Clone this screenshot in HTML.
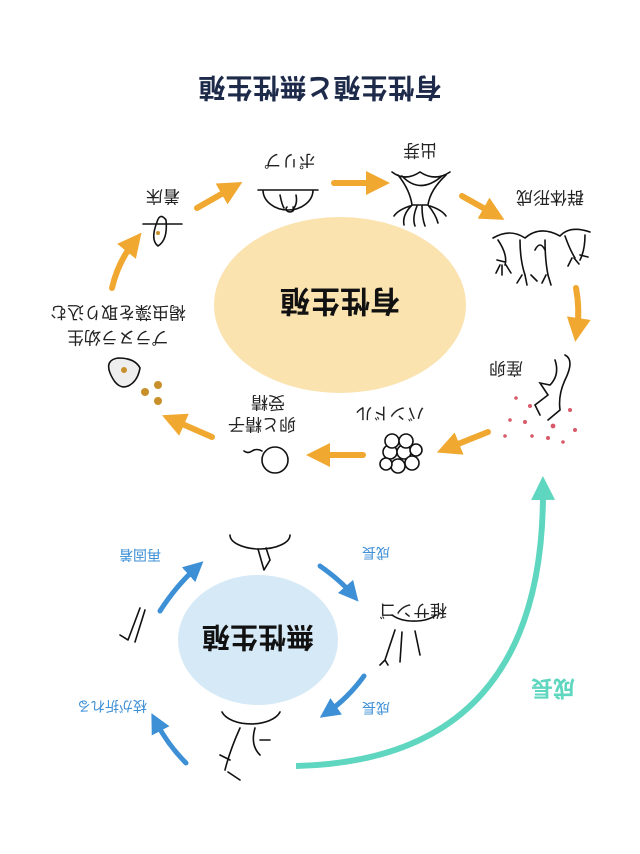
<!DOCTYPE html>
<html><head><meta charset="utf-8"><style>
html,body{margin:0;padding:0;background:#fff;}
svg{display:block;}
text{font-family:"Liberation Sans","Noto Sans CJK JP",sans-serif;}
</style></head><body>
<svg width="640" height="854" viewBox="0 0 640 854" xmlns="http://www.w3.org/2000/svg">
<defs>
<marker id="ao" markerWidth="4" markerHeight="4" refX="2" refY="2" orient="auto" markerUnits="strokeWidth"><path d="M0,0 L4,2 L0,4 z" fill="#f0a830"/></marker>
<marker id="ab" markerWidth="4" markerHeight="4" refX="2" refY="2" orient="auto" markerUnits="strokeWidth"><path d="M0,0 L4,2 L0,4 z" fill="#3d8fd6"/></marker>
<marker id="at" markerWidth="4" markerHeight="4" refX="2" refY="2" orient="auto" markerUnits="strokeWidth"><path d="M0,0 L4,2 L0,4 z" fill="#5fd6bf"/></marker>
</defs>
<!-- title -->
<text x="320" y="87" transform="rotate(180 320 87)" text-anchor="middle" dominant-baseline="central" font-size="27" font-weight="bold" fill="#1e2a4a">有性生殖と無性生殖</text>
<!-- ellipses -->
<ellipse cx="340" cy="305" rx="126" ry="88" fill="#fbe3b0"/>
<text x="340" y="300" transform="rotate(180 340 300)" text-anchor="middle" dominant-baseline="central" font-size="30" font-weight="bold" fill="#111">有性生殖</text>
<ellipse cx="258" cy="640" rx="80" ry="65" fill="#d6e9f6"/>
<text x="258" y="637" transform="rotate(180 258 637)" text-anchor="middle" dominant-baseline="central" font-size="28" font-weight="bold" fill="#111">無性生殖</text>
<!-- labels -->
<g font-size="17" fill="#222" text-anchor="middle" dominant-baseline="central">
<text x="290" y="160" transform="rotate(180 290 160)">ポリプ</text>
<text x="420" y="150" transform="rotate(180 420 150)">出芽</text>
<text x="550" y="197" transform="rotate(180 550 197)">群体形成</text>
<text x="506" y="368" transform="rotate(180 506 368)">産卵</text>
<text x="390" y="413" transform="rotate(180 390 413)">バンドル</text>
<text x="268" y="402" transform="rotate(180 268 402)">受精</text>
<text x="262" y="424" transform="rotate(180 262 424)">卵と精子</text>
<text x="118" y="337" transform="rotate(180 118 337)">プラヌラ幼生</text>
<text x="118" y="312" transform="rotate(180 118 312)">褐虫藻を取り込む</text>
<text x="163" y="196" transform="rotate(180 163 196)">着床</text>
<text x="413" y="610" transform="rotate(180 413 610)">稚サンゴ</text>
</g>
<g font-size="14" fill="#3d8fd6" text-anchor="middle" dominant-baseline="central">
<text x="140" y="555" transform="rotate(180 140 555)">再固着</text>
<text x="376" y="553" transform="rotate(180 376 553)">成長</text>
<text x="376" y="708" transform="rotate(180 376 708)">成長</text>
<text x="112" y="706" transform="rotate(180 112 706)">枝が折れる</text>
</g>
<text x="553" y="688" transform="rotate(180 553 688)" text-anchor="middle" dominant-baseline="central" font-size="22" font-weight="bold" fill="#5fd6bf">成長</text>
<!-- orange arrows -->
<g stroke="#f0a830" stroke-width="6" fill="none" stroke-linecap="round" marker-end="url(#ao)">
<path d="M197,208 L232,188"/>
<path d="M334,183 L378,183"/>
<path d="M462,196 L494,214"/>
<path d="M576,288 Q580,310 577,330"/>
<path d="M488,432 L448,448"/>
<path d="M363,455 L318,455"/>
<path d="M212,437 L173,420"/>
<path d="M112,288 Q118,262 134,242"/>
</g>
<!-- blue arrows -->
<g stroke="#3d8fd6" stroke-width="5" fill="none" stroke-linecap="round" marker-end="url(#ab)">
<path d="M160,611 Q176,586 196,568"/>
<path d="M320,566 Q340,580 352,594"/>
<path d="M364,676 Q348,698 328,712"/>
<path d="M186,763 Q168,745 156,722"/>
</g>
<!-- teal curve -->
<path d="M296,766 Q545,760 543,488" stroke="#5fd6bf" stroke-width="6" fill="none" marker-end="url(#at)"/>
<!-- icons -->
<g stroke="#111" stroke-width="1.6" fill="none" stroke-linecap="round">
<!-- polyp -->
<path d="M258,190 L318,190 M263,190 A25,20 0 0 0 313,190"/>
<path d="M280,195 Q282,205 284,208 M296,195 Q298,205 292,210 M287,207 a4,3 0 1 0 6,0"/>
<!-- budding -->
<path d="M392,172 Q405,182 420,172 Q435,182 450,172 M398,175 Q410,190 412,205 L428,205 Q430,190 446,175 M402,176 Q420,195 442,176"/>
<path d="M412,205 q-10,10 -8,20 M417,206 q-5,12 -2,20 M422,206 q0,12 3,20 M428,205 q8,10 10,18 M410,206 q-12,4 -16,10 M430,206 q12,4 16,10"/>
<!-- colony -->
<path d="M493,238 Q510,228 525,238 Q540,225 560,236 Q570,225 590,232"/>
<path d="M498,240 Q508,255 505,265 M520,240 Q520,260 525,275 M545,240 Q545,260 548,275 M565,236 Q570,250 575,258 M585,235 Q585,250 580,260 M535,250 q5,-10 10,0"/>
<path d="M500,265 l-4,8 m6,-8 l0,10 m4,-10 l5,8 M522,275 l-5,8 m8,-8 l2,10 m4,-10 l6,6 M546,275 l-4,8 m6,-8 l3,10 M572,258 l-4,8 m6,-8 l5,6 M505,262 l-8,-2 M580,255 l8,2"/>
<!-- spawning coral -->
<path d="M565,355 Q575,360 565,380 Q558,395 560,410 L548,420 M555,360 Q560,375 550,385 L540,383 L548,395 L535,405 L540,415"/>
<!-- bundle -->
<g fill="#fff"><circle cx="390" cy="452" r="7"/><circle cx="404" cy="452" r="7"/><circle cx="412" cy="463" r="7"/><circle cx="398" cy="466" r="7"/><circle cx="386" cy="464" r="6"/><circle cx="392" cy="441" r="7"/><circle cx="406" cy="441" r="7"/><circle cx="416" cy="450" r="6"/></g>
<!-- egg -->
<circle cx="275" cy="460" r="13" fill="#fff"/>
<path d="M262,451 q-5,-3 -10,0 q-4,3 -8,0"/>
<!-- planula -->
<path d="M110,373 Q105,360 118,358 Q135,358 140,368 Q138,380 130,385 Q118,392 110,373 Z" fill="#eee"/>
<!-- settlement -->
<path d="M143,224 L182,224 M157,222 Q150,240 158,246 Q168,240 166,220 Q160,212 157,222"/>
<!-- asexual icons -->
<path d="M230,535 A30,14 0 0 0 290,535"/>
<path d="M258,549 L264,570 M266,548 L270,560 L264,570"/>
<path d="M392,615 A28,16 0 0 0 436,615"/>
<path d="M395,630 L385,660 M402,632 L400,662 M415,631 L420,655 M385,660 l-5,5 m5,-5 l3,5"/>
<path d="M222,712 A30,16 0 0 0 280,712"/>
<path d="M240,728 Q230,750 225,770 M255,728 Q250,745 260,755 M230,760 l-10,-5 M228,772 l12,8 M260,740 l10,0"/>
<path d="M140,608 L128,640 M145,610 L135,642 M128,640 l-8,-5"/>
</g>
<g fill="#d85a6a">
<circle cx="516" cy="398" r="1.8"/><circle cx="510" cy="420" r="1.8"/><circle cx="525" cy="422" r="2"/><circle cx="553" cy="426" r="2.4"/><circle cx="570" cy="410" r="2"/><circle cx="575" cy="430" r="2"/><circle cx="532" cy="436" r="1.8"/><circle cx="548" cy="438" r="2"/><circle cx="563" cy="442" r="1.8"/><circle cx="505" cy="436" r="1.8"/><circle cx="530" cy="406" r="2"/>
</g>
<g fill="#c8902a">
<circle cx="158" cy="385" r="4"/><circle cx="145" cy="392" r="4"/><circle cx="158" cy="401" r="4"/><circle cx="124" cy="370" r="3"/><circle cx="158" cy="233" r="2"/>
</g>
</svg>
</body></html>
